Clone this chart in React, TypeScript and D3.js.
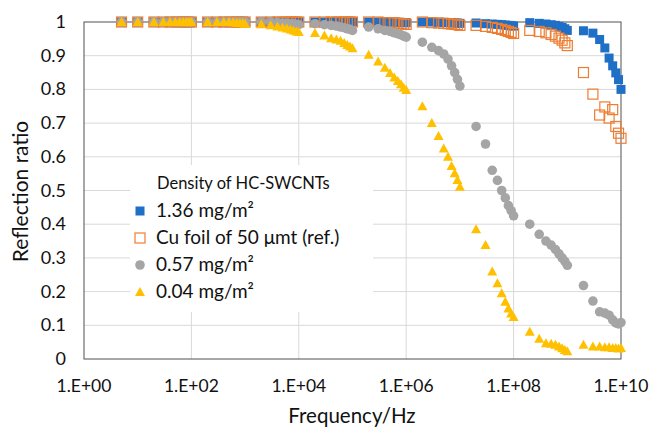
import React from "react";
import * as d3 from "d3";

const frequencies: number[] = [
  5, 10,
  2e1, 3e1, 4e1, 5e1, 6e1, 7e1, 8e1, 9e1, 1e2,
  2e2, 3e2, 4e2, 5e2, 6e2, 7e2, 8e2, 9e2, 1e3,
  2e3, 3e3, 4e3, 5e3, 6e3, 7e3, 8e3, 9e3, 1e4,
  2e4, 3e4, 4e4, 5e4, 6e4, 7e4, 8e4, 9e4, 1e5,
  2e5, 3e5, 4e5, 5e5, 6e5, 7e5, 8e5, 9e5, 1e6,
  2e6, 3e6, 4e6, 5e6, 6e6, 7e6, 8e6, 9e6, 1e7,
  2e7, 3e7, 4e7, 5e7, 6e7, 7e7, 8e7, 9e7, 1e8,
  2e8, 3e8, 4e8, 5e8, 6e8, 7e8, 8e8, 9e8, 1e9,
  2e9, 3e9, 4e9, 5e9, 6e9, 7e9, 8e9, 9e9, 1e10,
];

const blue136: number[] = [
  1, 1,
  1, 1, 1, 1, 1, 1, 1, 1, 1,
  1, 1, 1, 1, 1, 1, 1, 1, 1,
  1, 1, 1, 1, 1, 1, 1, 1, 1,
  1, 1, 1, 1, 1, 1, 1, 1, 1,
  1, 1, 1, 1, 1, 0.999, 0.999, 0.998, 0.998,
  1, 1, 0.999, 0.999, 0.998, 0.998, 0.997, 0.997, 0.996,
  0.997, 0.995, 0.994, 0.993, 0.992, 0.991, 0.99, 0.989, 0.988,
  0.998, 0.996, 0.994, 0.992, 0.99, 0.987, 0.984, 0.98, 0.975,
  0.974, 0.967, 0.948, 0.923, 0.893, 0.87, 0.849, 0.829, 0.8,
];

const cuFoil: number[] = [
  1, 1,
  1, 1, 1, 1, 1, 1, 1, 1, 1,
  1, 1, 1, 1, 1, 1, 1, 1, 1,
  1, 1, 1, 1, 1, 1, 1, 1, 1,
  1, 1, 1, 1, 1, 1, 1, 1, 1,
  1, 1, 0.998, 0.998, 0.997, 0.996, 0.995, 0.994, 0.993,
  1, 0.998, 0.997, 0.996, 0.995, 0.994, 0.993, 0.992, 0.99,
  0.99, 0.987, 0.984, 0.981, 0.978, 0.975, 0.972, 0.969, 0.966,
  0.975, 0.972, 0.968, 0.963, 0.958, 0.952, 0.946, 0.938, 0.93,
  0.85, 0.786, 0.724, 0.748, 0.715, 0.74, 0.69, 0.67, 0.655,
];

const gray057: number[] = [
  1, 1,
  1, 1, 1, 1, 1, 1, 1, 1, 1,
  1, 1, 1, 1, 1, 1, 1, 1, 1,
  1, 1, 0.998, 0.997, 0.996, 0.995, 0.994, 0.993, 0.992,
  0.995, 0.992, 0.99, 0.988, 0.985, 0.983, 0.98, 0.978, 0.975,
  0.985, 0.98, 0.975, 0.972, 0.968, 0.965, 0.962, 0.958, 0.955,
  0.94, 0.925, 0.915, 0.905, 0.89, 0.87, 0.85, 0.83, 0.81,
  0.69, 0.638, 0.56, 0.53, 0.5, 0.478, 0.455, 0.44, 0.425,
  0.4, 0.37, 0.35, 0.338, 0.325, 0.312, 0.3, 0.29, 0.278,
  0.218, 0.172, 0.14, 0.136, 0.13, 0.116, 0.107, 0.104, 0.108,
];

const yellow004: number[] = [
  1, 1,
  1, 1, 1, 1, 1, 1, 1, 1, 1,
  1, 1, 1, 1, 0.999, 0.998, 0.997, 0.996, 0.995,
  0.993, 0.99, 0.987, 0.984, 0.981, 0.978, 0.975, 0.972, 0.97,
  0.967, 0.96, 0.952, 0.948, 0.944, 0.938, 0.932, 0.927, 0.922,
  0.903, 0.883, 0.864, 0.849, 0.835, 0.825, 0.815, 0.805, 0.798,
  0.75, 0.7, 0.662, 0.625, 0.6, 0.573, 0.551, 0.531, 0.511,
  0.385, 0.338, 0.26, 0.225, 0.195, 0.17, 0.15, 0.135, 0.125,
  0.081, 0.06, 0.047, 0.045, 0.042, 0.037, 0.032, 0.027, 0.023,
  0.042, 0.037, 0.037, 0.035, 0.035, 0.033, 0.033, 0.031, 0.033,
];

const xTicks: number[] = [1, 1e2, 1e4, 1e6, 1e8, 1e10];
const xTickLabels: string[] = ["1.E+00", "1.E+02", "1.E+04", "1.E+06", "1.E+08", "1.E+10"];
const yTicks: number[] = [0, 0.1, 0.2, 0.3, 0.4, 0.5, 0.6, 0.7, 0.8, 0.9, 1];
const yTickLabels: string[] = ["0", "0.1", "0.2", "0.3", "0.4", "0.5", "0.6", "0.7", "0.8", "0.9", "1"];

const legendTitle = "Density of HC-SWCNTs";
const seriesNames: string[] = ["1.36 mg/m²", "Cu foil of 50 μmt (ref.)", "0.57 mg/m²", "0.04 mg/m²"];

const BLUE = "#1F6FC6";
const ORANGE = "#ED7D31";
const GRAY = "#A5A5A5";
const YELLOW = "#FFC000";
const FONT = "Lato, 'Open Sans', sans-serif";
const TEXT = "#111";

type Kind = "square" | "hollow" | "circle" | "triangle";

function Marker({ kind, cx, cy }: { kind: Kind; cx: number; cy: number }) {
  if (kind === "square") {
    return <rect x={cx - 4.5} y={cy - 4.5} width={9} height={9} fill={BLUE} />;
  }
  if (kind === "hollow") {
    return (
      <rect x={cx - 5} y={cy - 5} width={10} height={10} fill="none" stroke={ORANGE} strokeWidth={1.2} />
    );
  }
  if (kind === "circle") {
    return <circle cx={cx} cy={cy} r={4.8} fill={GRAY} />;
  }
  const p = d3.path();
  p.moveTo(cx, cy - 5);
  p.lineTo(cx + 5, cy + 4);
  p.lineTo(cx - 5, cy + 4);
  p.closePath();
  return <path d={p.toString()} fill={YELLOW} />;
}

export default function App() {
  const left = 84, right = 621, top = 22, bottom = 359;
  const x = d3.scaleLog().domain([1, 1e10]).range([left, right]);
  const y = d3.scaleLinear().domain([0, 1]).range([bottom, top]);

  const series: { vals: number[]; kind: Kind }[] = [
    { vals: blue136, kind: "square" },
    { vals: cuFoil, kind: "hollow" },
    { vals: gray057, kind: "circle" },
    { vals: yellow004, kind: "triangle" },
  ];

  const legendX = 130, legendY = 165, legendW = 243, legendH = 147;
  const legendKinds: Kind[] = ["square", "hollow", "circle", "triangle"];

  return (
    <svg
      width={651}
      height={431}
      style={{ position: "absolute", left: 0, top: 0, background: "#fff" }}
      fontFamily={FONT}
    >
      <rect x={0} y={0} width={651} height={431} fill="#fff" />
      {yTicks.slice(1, -1).map((t) => (
        <line key={"gy" + t} x1={left} x2={right} y1={y(t)} y2={y(t)} stroke="#D9D9D9" strokeWidth={1} />
      ))}
      {xTicks.slice(1, -1).map((t) => (
        <line key={"gx" + t} x1={x(t)} x2={x(t)} y1={top} y2={bottom} stroke="#D9D9D9" strokeWidth={1} />
      ))}
      <rect x={left} y={top} width={right - left} height={bottom - top} fill="none" stroke="#505050" strokeWidth={1} />

      <rect x={legendX} y={legendY} width={legendW} height={legendH} fill="#fff" />

      {series.map((s, si) => (
        <g key={"s" + si}>
          {frequencies.map((f, i) => (
            <Marker key={i} kind={s.kind} cx={x(f)} cy={y(s.vals[i])} />
          ))}
        </g>
      ))}

      <text x={157} y={189} fontSize={16.5} fill={TEXT}>{legendTitle}</text>
      {seriesNames.map((name, i) => (
        <g key={"l" + i}>
          <Marker kind={legendKinds[i]} cx={140} cy={211 + i * 27} />
          <text x={156} y={217 + i * 27} fontSize={19} fill={TEXT}>{name}</text>
        </g>
      ))}

      {yTicks.map((t, i) => (
        <text key={"yt" + t} x={66} y={y(t) + 6} textAnchor="end" fontSize={18} fill={TEXT}>
          {yTickLabels[i]}
        </text>
      ))}
      {xTicks.map((t, i) => (
        <text key={"xt" + t} x={x(t)} y={392} textAnchor="middle" fontSize={17.5} fill={TEXT}>
          {xTickLabels[i]}
        </text>
      ))}

      <text x={352} y={423} textAnchor="middle" fontSize={20.5} fill={TEXT}>Frequency/Hz</text>
      <text
        transform={`translate(28,${(top + bottom) / 2 + 1}) rotate(-90)`}
        textAnchor="middle"
        fontSize={21}
        fill={TEXT}
      >
        Reflection ratio
      </text>
    </svg>
  );
}
